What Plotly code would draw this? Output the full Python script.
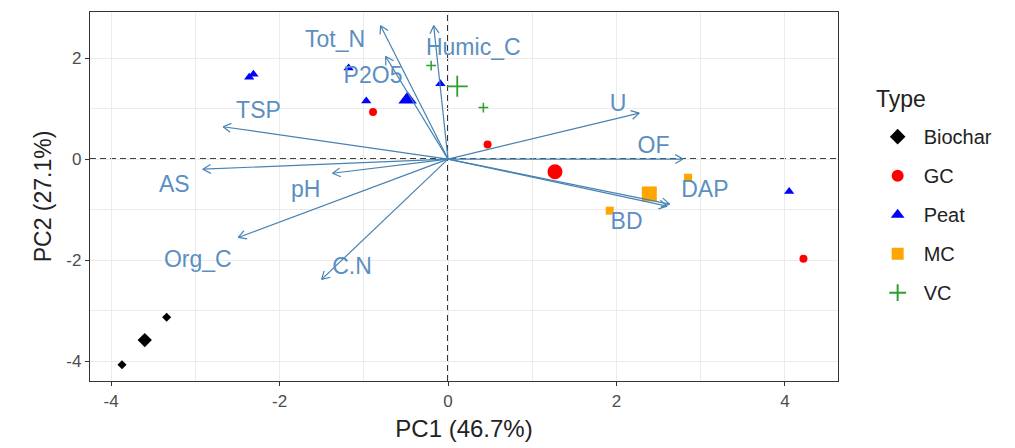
import math
import plotly.graph_objects as go

# ---------------- data ----------------
types = ["Biochar", "GC", "Peat", "MC", "VC"]
colors = {"Biochar": "#000000", "GC": "#FF0000", "Peat": "#0000FF", "MC": "#FFA500", "VC": "#2E9E2E"}
symbols = {"Biochar": "diamond", "GC": "circle", "Peat": "triangle-up", "MC": "square", "VC": "cross-thin"}

biochar_x = [-3.87, -3.34]
biochar_y = [-4.07, -3.13]
gc_x = [-0.89, 0.47, 4.22]
gc_y = [0.93, 0.29, -1.97]
peat_x = [-2.36, -2.31, -1.18, -0.97, -0.09, 4.05]
peat_y = [1.62, 1.68, 1.80, 1.15, 1.49, -0.64]
mc_x = [2.85, 1.92]
mc_y = [-0.37, -1.02]
vc_x = [-0.20, 0.42]
vc_y = [1.85, 1.02]

centroid_x = [-3.60, 1.27, -0.48, 2.39, 0.11]
centroid_y = [-3.58, -0.25, 1.18, -0.69, 1.44]

variables = ["Tot_N", "Humic_C", "P2O5", "TSP", "AS", "pH", "Org_C", "C.N", "U", "OF", "DAP", "BD"]
var_x = [-0.80, -0.17, -0.74, -2.67, -2.91, -1.37, -2.49, -1.50, 2.27, 2.79, 2.63, 2.60]
var_y = [2.64, 2.64, 2.03, 0.64, -0.20, -0.28, -1.55, -2.38, 0.91, 0.00, -0.89, -0.93]
label_x = [-1.34, 0.30, -0.89, -2.25, -3.25, -1.69, -2.97, -1.14, 2.02, 2.44, 3.05, 2.12]
label_y = [2.34, 2.18, 1.62, 0.93, -0.53, -0.64, -2.02, -2.15, 1.06, 0.24, -0.64, -1.27]

x_ticks = [-4, -2, 0, 2, 4]
y_ticks = [-4, -2, 0, 2]

points = {
    "Biochar": (biochar_x, biochar_y),
    "GC": (gc_x, gc_y),
    "Peat": (peat_x, peat_y),
    "MC": (mc_x, mc_y),
    "VC": (vc_x, vc_y),
}

# ---------------- layout constants ----------------
W, H = 1015, 448
ML, MR, MT, MB = 90, 177, 11, 66
XR = [-4.25, 4.63]
YR = [-4.39, 2.91]
plot_w = W - ML - MR
plot_h = H - MT - MB
sx = plot_w / (XR[1] - XR[0])
sy = plot_h / (YR[1] - YR[0])

small_size = {"Biochar": 7, "GC": 8, "Peat": 9, "MC": 8, "VC": 7}
big_size = {"Biochar": 11, "GC": 15, "Peat": 16, "MC": 15, "VC": 15}

fig = go.Figure()

for t in types:
    xs, ys = points[t]
    is_cross = t == "VC"
    fig.add_trace(go.Scatter(
        x=xs, y=ys, mode="markers", name=t, legendgroup=t,
        marker=dict(symbol=symbols[t], size=small_size[t], color=colors[t],
                    line=dict(color=colors[t], width=1.5 if is_cross else 0)),
        hoverinfo="skip",
    ))
for i, t in enumerate(types):
    is_cross = t == "VC"
    fig.add_trace(go.Scatter(
        x=[centroid_x[i]], y=[centroid_y[i]], mode="markers", name=t, legendgroup=t,
        showlegend=False,
        marker=dict(symbol=symbols[t], size=big_size[t], color=colors[t],
                    line=dict(color=colors[t], width=1.8 if is_cross else 0)),
        hoverinfo="skip",
    ))

# arrows (shaft + open head computed in pixel space)
ax_list, ay_list = [], []
head_len = 9.0
ang = math.radians(30)
for tx, ty in zip(var_x, var_y):
    px, py = tx * sx, ty * sy
    L = math.hypot(px, py)
    ux, uy = -px / L, -py / L
    ax_list += [0, tx, None]
    ay_list += [0, ty, None]
    for s in (1, -1):
        c, sn = math.cos(s * ang), math.sin(s * ang)
        rx = (ux * c - uy * sn) * head_len
        ry = (ux * sn + uy * c) * head_len
        ax_list += [tx, tx + rx / sx, None]
        ay_list += [ty, ty + ry / sy, None]

fig.add_trace(go.Scatter(
    x=ax_list, y=ay_list, mode="lines", showlegend=False,
    line=dict(color="#4682B4", width=1.2), hoverinfo="skip",
))

fig.add_trace(go.Scatter(
    x=label_x, y=label_y, mode="text", text=variables, showlegend=False,
    textfont=dict(family="Liberation Sans, Arial, sans-serif", size=23, color="#5B8FC2"),
    hoverinfo="skip",
))

grid_c = "#EBEBEB"
axis_common = dict(
    showgrid=True, gridcolor=grid_c, gridwidth=1.1,
    showline=True, linecolor="#333333", linewidth=1.3, mirror=True,
    ticks="outside", ticklen=4, tickcolor="#333333", tickwidth=1.1,
    tickfont=dict(family="Liberation Sans, Arial, sans-serif", size=17, color="#4D4D4D"),
    zeroline=False,
    minor=dict(dtick=1, tick0=0, showgrid=True, gridcolor=grid_c, gridwidth=0.6, ticks=""),
)

fig.update_layout(
    width=W, height=H,
    margin=dict(l=ML, r=MR, t=MT, b=MB),
    paper_bgcolor="white", plot_bgcolor="white",
    font=dict(family="Liberation Sans, Arial, sans-serif"),
    xaxis=dict(range=XR, tickvals=x_ticks, ticktext=[str(v) for v in x_ticks],
               title=dict(text="PC1 (46.7%)", font=dict(size=24, color="#222222"), standoff=10),
               **axis_common),
    yaxis=dict(range=YR, tickvals=y_ticks, ticktext=[str(v) for v in y_ticks],
               title=dict(text="PC2 (27.1%)", font=dict(size=23, color="#222222"), standoff=8),
               **axis_common),
    legend=dict(
        x=1.045, xanchor="left", y=0.715, yanchor="top",
        font=dict(size=20, color="#222222"),
        itemsizing="constant", itemwidth=42, tracegroupgap=10, traceorder="grouped",
        bgcolor="rgba(0,0,0,0)",
    ),
    annotations=[
        dict(text="Type", xref="paper", yref="paper", x=1.048, y=0.765,
             xanchor="left", yanchor="middle", showarrow=False,
             font=dict(size=23, color="#222222")),
    ],
    shapes=[
        dict(type="line", xref="x", yref="paper", x0=0, x1=0, y0=0, y1=1,
             line=dict(color="#000000", width=1.6, dash="6px,4px"), layer="below"),
        dict(type="line", xref="paper", yref="y", x0=0, x1=1, y0=0, y1=0,
             line=dict(color="#000000", width=1.6, dash="6px,4px"), layer="below"),
    ],
)

fig.write_html("out.html", post_script="document.body.style.margin='0';",
               config={"displayModeBar": False})
